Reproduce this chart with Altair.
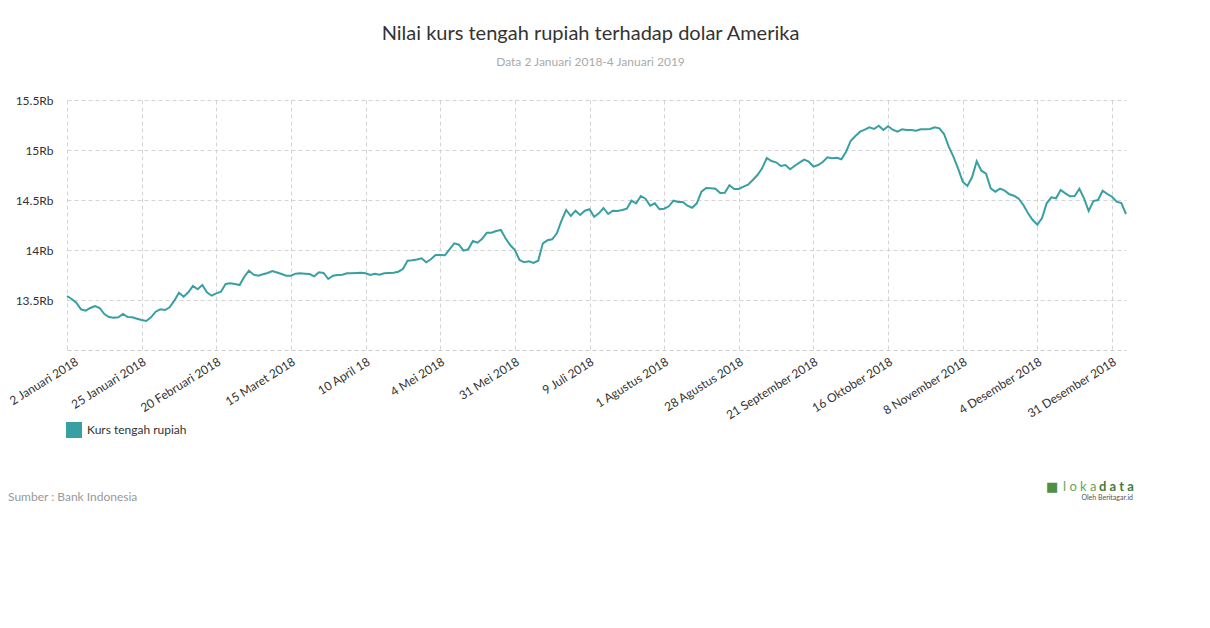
import altair as alt
import pandas as pd

title_text = "Nilai kurs tengah rupiah terhadap dolar Amerika"
subtitle_text = "Data 2 Januari 2018-4 Januari 2019"
source_text = "Sumber : Bank Indonesia"
series_name = "Kurs tengah rupiah"

tick_labels = [
    "2 Januari 2018", "25 Januari 2018", "20 Februari 2018", "15 Maret 2018",
    "10 April 18", "4 Mei 2018", "31 Mei 2018", "9 Juli 2018",
    "1 Agustus 2018", "28 Agustus 2018", "21 September 2018", "16 Oktober 2018",
    "8 November 2018", "4 Desember 2018", "31 Desember 2018",
]
tick_step = 16

y_ticks = [13500, 14000, 14500, 15000, 15500]

kurs = [
    13540, 13510, 13473, 13407, 13393, 13420, 13440, 13420, 13360, 13330,
    13323, 13327, 13360, 13330, 13327, 13313, 13300, 13290, 13327, 13383,
    13407, 13400, 13427, 13493, 13573, 13533, 13577, 13640, 13607, 13650,
    13577, 13543, 13567, 13583, 13660, 13667, 13660, 13650, 13733, 13793,
    13753, 13743, 13757, 13770, 13790, 13775, 13760, 13743, 13743, 13763,
    13767, 13763, 13760, 13737, 13777, 13770, 13710, 13743, 13750, 13753,
    13767, 13767, 13770, 13773, 13767, 13750, 13763, 13753, 13767, 13770,
    13773, 13783, 13810, 13893, 13897, 13905, 13917, 13877, 13907, 13950,
    13950, 13947, 14007, 14067, 14053, 13993, 14007, 14090, 14073, 14113,
    14173, 14173, 14190, 14200, 14117, 14050, 14000, 13900, 13877, 13887,
    13870, 13893, 14067, 14097, 14107, 14167, 14293, 14400, 14340, 14393,
    14350, 14393, 14407, 14333, 14367, 14420, 14360, 14393, 14390, 14400,
    14413, 14493, 14467, 14540, 14513, 14443, 14467, 14407, 14413, 14437,
    14493, 14480, 14480, 14443, 14423, 14467, 14583, 14620, 14617, 14613,
    14570, 14573, 14647, 14610, 14610, 14633, 14653, 14700, 14750, 14817,
    14920, 14890, 14877, 14840, 14850, 14807, 14843, 14873, 14903, 14883,
    14833, 14850, 14880, 14927, 14917, 14923, 14907, 14983, 15093, 15140,
    15183, 15203, 15227, 15210, 15243, 15200, 15237, 15203, 15183, 15207,
    15200, 15200, 15193, 15207, 15207, 15210, 15227, 15217, 15160, 15033,
    14933, 14817, 14683, 14640, 14727, 14887, 14793, 14763, 14617, 14583,
    14613, 14593, 14557, 14543, 14513, 14450, 14367, 14300, 14253, 14320,
    14467, 14527, 14517, 14600, 14567, 14537, 14540, 14613, 14517, 14390,
    14490, 14500, 14593, 14560, 14533, 14483, 14470, 14360,
]

LINE_COLOR = "#389fa2"
FONT = "Lato"

df = pd.DataFrame({
    "i": list(range(len(kurs))),
    "kurs": kurs,
    "seri": [series_name] * len(kurs),
})

label_js = "[" + ",".join("'%s'" % s for s in tick_labels) + "]"
tick_values = [tick_step * k for k in range(len(tick_labels))]

line = alt.Chart(df).mark_line(strokeWidth=2).encode(
    x=alt.X(
        "i:Q",
        scale=alt.Scale(domain=[0, len(kurs) - 1], nice=False, zero=False),
        axis=alt.Axis(
            values=tick_values,
            labelExpr=label_js + "[round(datum.value/%d)]" % tick_step,
            title=None,
            labelAngle=-32,
            labelAlign="right",
            labelBaseline="top",
            labelPadding=6,
            labelOffset={"condition": {"test": "datum.value == 0", "value": 7}, "value": 0},
            labelOverlap=False,
            labelBound=False,
            labelFlush=False,
            ticks=False,
            domain=True,
            domainColor="#cccccc",
            domainDash=[4, 3],
            domainWidth=1,
            grid=True,
        ),
    ),
    y=alt.Y(
        "kurs:Q",
        scale=alt.Scale(domain=[13000, 15500], nice=False, zero=False),
        axis=alt.Axis(
            values=y_ticks,
            labelExpr="(datum.value/1000) + 'Rb'",
            title=None,
            ticks=False,
            domain=False,
            labelPadding=14,
            grid=True,
        ),
    ),
    color=alt.Color(
        "seri:N",
        scale=alt.Scale(range=[LINE_COLOR]),
        legend=alt.Legend(
            title=None,
            orient="none",
            legendX=-1,
            legendY=322,
            symbolType="square",
            symbolSize=196,
            symbolFillColor=LINE_COLOR,
            symbolStrokeWidth=2,
            labelFont=FONT,
            labelFontSize=12,
            labelColor="#333333",
            labelOffset=5,
        ),
    ),
)

source = alt.Chart(pd.DataFrame({"t": [source_text]})).mark_text(
    align="left", baseline="middle", fontSize=12, color="#999999", font=FONT
).encode(x=alt.value(-59), y=alt.value(397), text="t:N")

logo_a = alt.Chart(pd.DataFrame({"t": ["l o k a"]})).mark_text(
    align="left", baseline="middle", fontSize=13, color="#6aa25a", font=FONT
).encode(x=alt.value(996), y=alt.value(387), text="t:N")

logo_b = alt.Chart(pd.DataFrame({"t": ["d a t a"]})).mark_text(
    align="left", baseline="middle", fontSize=13, color="#3f7d3a", font=FONT,
    fontWeight="bold"
).encode(x=alt.value(1032), y=alt.value(387), text="t:N")

logo_c = alt.Chart(pd.DataFrame({"t": ["Oleh Beritagar.id"]})).mark_text(
    align="right", baseline="middle", fontSize=7, color="#555555", font=FONT
).encode(x=alt.value(1066), y=alt.value(398), text="t:N")

logo_icon = alt.Chart(pd.DataFrame({"t": ["■"]})).mark_text(
    align="left", baseline="middle", fontSize=13, color="#4f8f45", font="DejaVu Sans"
).encode(x=alt.value(979), y=alt.value(387), text="t:N")

chart = alt.layer(line, source, logo_icon, logo_a, logo_b, logo_c).properties(
    width=1059,
    height=250,
    autosize=alt.AutoSizeParams(type="none"),
    padding={"left": 59, "top": 92, "right": 60, "bottom": 200},
    title=alt.Title(
        text=title_text,
        subtitle=subtitle_text,
        anchor="middle",
        dx=-6,
        offset=26,
        font=FONT,
        fontSize=20,
        fontWeight="normal",
        color="#333333",
        subtitleFont=FONT,
        subtitleFontSize=12,
        subtitleColor="#aaaaaa",
        subtitlePadding=13,
    ),
).configure_view(stroke=None).configure_axis(
    labelFont=FONT,
    labelFontSize=12,
    labelColor="#333333",
    gridColor="#d4d4d4",
    gridDash=[4, 3],
    gridWidth=1,
)

chart.save("out.html", embed_options={"renderer": "svg", "actions": False})
